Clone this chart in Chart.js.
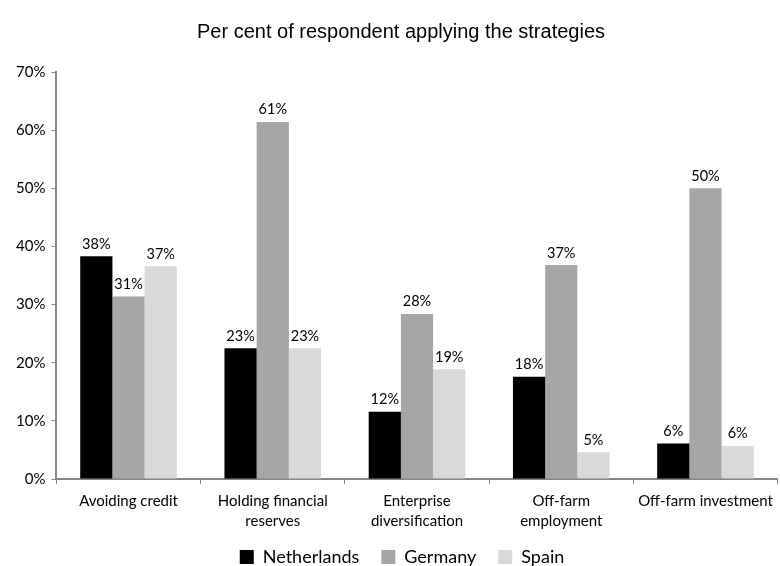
<!DOCTYPE html>
<html>
<head>
<meta charset="utf-8">
<title>Per cent of respondent applying the strategies</title>
<script src="https://cdn.jsdelivr.net/npm/chart.js@4"></script>
<style>
  html, body { margin: 0; padding: 0; background: #fff; }
  #wrap { width: 780px; height: 566px; }
</style>
</head>
<body>
<div id="wrap"><canvas id="strategyChart" width="780" height="566"></canvas></div>
<script>
// strategies and share of respondents (%) per country
const categories = [
    'Avoiding credit',
    ['Holding financial', 'reserves'],
    ['Enterprise', 'diversification'],
    ['Off-farm', 'employment'],
    'Off-farm investment'
];
const netherlands = [38.3, 22.5, 11.6, 17.6, 6.1];
const germany = [31.4, 61.4, 28.4, 36.8, 50.0];
const spain = [36.6, 22.5, 18.9, 4.6, 5.7];
const yTicks = [0, 10, 20, 30, 40, 50, 60, 70];

const labelFont = "'Lato', 'Open Sans', sans-serif";

// writes the rounded percentage above every bar
const valueLabels = {
    id: 'valueLabels',
    afterDatasetsDraw(chart) {
        const ctx = chart.ctx;
        ctx.save();
        ctx.font = '14.5px ' + labelFont;
        ctx.fillStyle = '#000';
        ctx.textAlign = 'center';
        ctx.textBaseline = 'bottom';
        chart.data.datasets.forEach((ds, i) => {
            chart.getDatasetMeta(i).data.forEach((bar, j) => {
                ctx.fillText(Math.round(ds.data[j]) + '%', bar.x, bar.y - 5);
            });
        });
        ctx.restore();
    }
};

// pull the legend up towards the category labels and nudge title/legend right,
// so they centre over the plot rather than the whole canvas
const boxNudge = {
    id: 'boxNudge',
    afterLayout(chart) {
        const lg = chart.legend;
        lg.top -= 12;
        lg.bottom -= 12;
        lg.left += 8;
        lg.right += 8;
        const t = chart.titleBlock;
        if (t) {
            t.left += 7;
            t.right += 7;
        }
    }
};

new Chart(document.getElementById('strategyChart'), {
    type: 'bar',
    data: {
        labels: categories,
        datasets: [
            { label: 'Netherlands', data: netherlands, backgroundColor: '#000000' },
            { label: 'Germany', data: germany, backgroundColor: '#a6a6a6' },
            { label: 'Spain', data: spain, backgroundColor: '#d9d9d9' }
        ]
    },
    options: {
        responsive: false,
        animation: false,
        layout: { padding: { left: 10, right: 2, top: 0, bottom: -22 } },
        datasets: {
            bar: { barPercentage: 1.0, categoryPercentage: 0.67 }
        },
        plugins: {
            title: {
                display: true,
                text: 'Per cent of respondent applying the strategies',
                color: '#000',
                font: { family: "'Liberation Sans', Arial, sans-serif", size: 20, weight: 'normal' },
                padding: { top: 20, bottom: 28 }
            },
            legend: {
                position: 'bottom',
                labels: {
                    color: '#000',
                    boxWidth: 14,
                    boxHeight: 14,
                    padding: 22,
                    font: { family: labelFont, size: 18 }
                }
            },
            tooltip: { enabled: false }
        },
        scales: {
            x: {
                grid: {
                    offset: true,
                    drawOnChartArea: false,
                    drawTicks: true,
                    tickLength: 5,
                    color: '#868686'
                },
                border: { color: '#868686', width: 2 },
                ticks: {
                    color: '#000',
                    maxRotation: 0,
                    padding: 7,
                    font: { family: labelFont, size: 15, lineHeight: 1.33 }
                }
            },
            y: {
                min: 0,
                max: 70,
                afterBuildTicks(axis) {
                    axis.ticks = yTicks.map(v => ({ value: v }));
                },
                grid: {
                    drawOnChartArea: false,
                    tickLength: 5,
                    color: '#868686'
                },
                border: { color: '#868686', width: 2 },
                ticks: {
                    color: '#000',
                    padding: 6,
                    font: { family: labelFont, size: 15 },
                    callback: v => v + '%'
                }
            }
        }
    },
    plugins: [valueLabels, boxNudge]
});
</script>
</body>
</html>
